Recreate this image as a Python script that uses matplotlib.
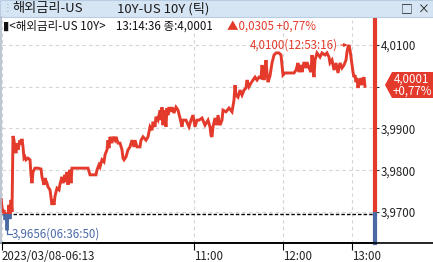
import matplotlib.pyplot as plt
from matplotlib.patches import Rectangle, Polygon

plt.rcParams['font.family'] = ['Noto Sans CJK KR', 'DejaVu Sans']

# tick position (x) and price
tick_idx = [0, 1, 2, 3, 4, 5, 6, 7, 8, 9, 10, 11, 12, 13, 14, 15, 16, 17, 18, 19,
            20, 21, 22, 23, 24, 25, 26, 28, 30, 31, 32, 33, 35, 38, 41, 42, 44, 45, 47, 48,
            50, 51, 52, 53, 54, 55, 57, 59, 60, 62, 63, 65, 66, 67, 68, 69, 70, 71, 72, 78,
            84, 88, 90, 96, 97, 99, 100, 102, 104, 105, 107, 108, 109, 110, 112, 113, 115, 116, 118, 120,
            122, 123, 124, 126, 128, 130, 132, 134, 135, 137, 140, 141, 143, 146, 148, 150, 152, 153, 155, 156,
            158, 160, 161, 162, 163, 164, 166, 167, 168, 169, 171, 172, 174, 176, 178, 180, 182, 183, 186, 189,
            191, 193, 195, 197, 199, 202, 205, 208, 210, 211, 212, 213, 215, 217, 218, 220, 222, 223, 226, 229,
            232, 234, 235, 236, 238, 240, 242, 244, 246, 247, 249, 251, 253, 255, 257, 259, 261, 262, 264, 265,
            266, 267, 268, 270, 272, 274, 276, 279, 281, 282, 283, 285, 288, 291, 294, 296, 298, 299, 301, 302,
            304, 306, 307, 309, 311, 312, 314, 315, 317, 320, 322, 325, 327, 329, 330, 332, 334, 336, 338, 340,
            342, 344, 346, 347, 348, 349, 350, 351, 352, 353, 354, 355, 356, 357, 358, 359, 360, 361, 362, 363,
            364, 365]
price = [3.9724, 3.9733, 3.9712, 3.9698, 3.9705, 3.9681, 3.9698, 3.9656, 3.9695, 3.9717, 3.9683, 3.9729, 3.9700, 3.9882, 3.9872, 3.9849, 3.9841, 3.9865, 3.9849, 3.9860,
         3.9872, 3.9863, 3.9875, 3.9856, 3.9829, 3.9832, 3.9825, 3.9829, 3.9825, 3.9789, 3.9769, 3.9796, 3.9805, 3.9805, 3.9803, 3.9784, 3.9765, 3.9781, 3.9769, 3.9760,
         3.9753, 3.9734, 3.9717, 3.9729, 3.9717, 3.9738, 3.9757, 3.9753, 3.9767, 3.9784, 3.9769, 3.9789, 3.9772, 3.9796, 3.9765, 3.9789, 3.9801, 3.9769, 3.9805, 3.9805,
         3.9805, 3.9805, 3.9789, 3.9789, 3.9801, 3.9813, 3.9808, 3.9825, 3.9820, 3.9837, 3.9849, 3.9872, 3.9853, 3.9880, 3.9865, 3.9880, 3.9872, 3.9880, 3.9865, 3.9865,
         3.9849, 3.9829, 3.9825, 3.9832, 3.9849, 3.9856, 3.9872, 3.9856, 3.9872, 3.9856, 3.9856, 3.9872, 3.9880, 3.9872, 3.9880, 3.9904, 3.9896, 3.9916, 3.9904, 3.9928,
         3.9920, 3.9944, 3.9920, 3.9951, 3.9908, 3.9944, 3.9904, 3.9949, 3.9932, 3.9951, 3.9940, 3.9951, 3.9937, 3.9951, 3.9944, 3.9925, 3.9904, 3.9920, 3.9920, 3.9904,
         3.9920, 3.9932, 3.9904, 3.9920, 3.9920, 3.9925, 3.9908, 3.9920, 3.9904, 3.9884, 3.9880, 3.9904, 3.9925, 3.9908, 3.9932, 3.9908, 3.9920, 3.9944, 3.9940, 3.9949,
         3.9940, 3.9968, 4.0004, 3.9980, 3.9975, 3.9992, 3.9980, 3.9992, 3.9997, 4.0016, 4.0000, 4.0009, 4.0016, 4.0023, 4.0016, 4.0023, 4.0021, 4.0052, 4.0016, 4.0035,
         4.0064, 4.0033, 4.0011, 4.0026, 4.0057, 4.0076, 4.0081, 4.0081, 4.0076, 4.0052, 4.0028, 4.0033, 4.0033, 4.0033, 4.0033, 4.0040, 4.0057, 4.0035, 4.0052, 4.0035,
         4.0059, 4.0045, 4.0059, 4.0045, 4.0035, 4.0076, 4.0023, 4.0064, 4.0081, 4.0071, 4.0081, 4.0076, 4.0081, 4.0071, 4.0057, 4.0064, 4.0040, 4.0057, 4.0033, 4.0057,
         4.0045, 4.0052, 4.0064, 4.0083, 4.0095, 4.0100, 4.0088, 4.0071, 4.0052, 4.0035, 4.0023, 4.0028, 4.0011, 4.0021, 3.9997, 4.0016, 4.0004, 4.0021, 4.0004, 4.0016,
         4.0023, 4.0001]

prev_close = 3.9696
last_price = 4.0001
y_ticks = [3.97, 3.98, 3.99, 4.00, 4.01]
y_labels = ['3,9700', '3,9800', '3,9900', '', '4,0100']
x_ticks = [2, 194, 283, 352]
x_labels = ['2023/03/08-06:13', '11:00', '12:00', '13:00']

RED = '#e33a2c'
BLUE = '#4a6aa6'
GRID = '#d4d4d4'
FS = 8.3

fig = plt.figure(figsize=(4.33, 2.62), dpi=100)
fig.patch.set_facecolor('white')
W, H = 433, 262

def fx(px):
    return px / W

def fy(py):
    return 1 - py / H

# title bar
fig.patches.append(Rectangle((0, fy(17)), 1, 17 / H, transform=fig.transFigure,
                             facecolor='#d6e5f3', edgecolor='#b8cde2', lw=0.8, zorder=0))
fig.text(fx(3), fy(8.5), '⋮', color='#9aaabb', fontsize=7, va='center', ha='left')
fig.text(fx(12), fy(8.5), '해외금리-US', color='#1a1a1a', fontsize=9.5, va='center')
fig.text(fx(117), fy(8.5), '10Y-US 10Y (틱)', color='#1a1a1a', fontsize=9.5, va='center')
fig.text(fx(401), fy(8.5), '□  ×', color='#1a1a1a', fontsize=8.5, va='center')

ax = fig.add_axes([fx(2), fy(243), fx(375) - fx(2), fy(20) - fy(243)])
ax.set_xlim(2, 375)
ax.set_ylim(3.96257, 4.01599)

# line: red above previous close, blue below
red_line, = ax.plot(tick_idx, price, color=RED, lw=2.1, zorder=3, solid_joinstyle='miter')
blue_line, = ax.plot(tick_idx, price, color=BLUE, lw=2.1, zorder=3, solid_joinstyle='miter')
top_clip = Rectangle((0, prev_close), 400, 1, transform=ax.transData)
bot_clip = Rectangle((0, 3.9), 400, prev_close - 3.9, transform=ax.transData)
red_line.set_clip_path(top_clip)
blue_line.set_clip_path(bot_clip)

ax.axhline(prev_close, color='black', lw=1.0, ls=(0, (2.5, 1.5)), zorder=2)

for spine in ['top', 'left', 'right']:
    ax.spines[spine].set_visible(False)
ax.spines['bottom'].set_color('black')
ax.spines['bottom'].set_linewidth(1.2)

# coloured right axis line
ax.plot([375, 375], [prev_close, 4.02], color=RED, lw=3, clip_on=False, zorder=4)
ax.plot([375, 375], [3.96257, prev_close], color=BLUE, lw=3, clip_on=False, zorder=4)

ax.yaxis.tick_right()
ax.set_yticks(y_ticks)
ax.set_yticklabels(y_labels)
ax.tick_params(axis='y', length=3, width=0.8, color='#333333', pad=1,
               labelsize=FS, labelcolor='#222222')
ax.set_xticks(x_ticks)
ax.set_xticklabels(x_labels, ha='left')
ax.tick_params(axis='x', length=5, width=0.8, color='black', pad=0,
               labelsize=FS, labelcolor='#222222')

ax.grid(True, color=GRID, ls=(0, (3, 3)), lw=0.8, zorder=0)
ax.set_axisbelow(True)

# bottom line extends over full width, thin frame at left
fig.lines.append(plt.Line2D([0, 1], [fy(243), fy(243)], transform=fig.transFigure,
                            color='black', lw=1.2))
fig.lines.append(plt.Line2D([fx(0.5), fx(0.5)], [fy(17), fy(243)], transform=fig.transFigure,
                            color='#b0bccc', lw=1.2))

# header line
fig.text(fx(3), fy(26), '▮<해외금리-US 10Y>', color='#111111', fontsize=FS, va='center')
fig.text(fx(116), fy(26), '13:14:36 종:4,0001', color='#111111', fontsize=FS, va='center')
fig.text(fx(227), fy(26), '▲0,0305 +0,77%', color=RED, fontsize=FS, va='center')

# high / low annotations
ax.annotate('4,0100(12:53:16)', xy=(349, 4.0100), xytext=(338, 4.0100),
            color=RED, fontsize=FS, ha='right', va='center',
            arrowprops=dict(arrowstyle='-|>', color=RED, lw=0.8, mutation_scale=5,
                            shrinkA=0, shrinkB=1))
ax.plot([7, 7, 12], [3.9656, 3.9648, 3.9648], color=BLUE, lw=0.9, zorder=3)
ax.text(12, 3.9648, '3,9656(06:36:50)', color=BLUE, fontsize=FS, va='center', ha='left')

# current price tag
tag = Polygon([(fx(385), fy(85)), (fx(392), fy(72)), (fx(433), fy(72)),
               (fx(433), fy(98)), (fx(392), fy(98))], closed=True,
              transform=fig.transFigure, facecolor=RED, edgecolor='none', zorder=5)
fig.patches.append(tag)
fig.text(fx(412), fy(79), '4,0001', color='white', fontsize=FS, ha='center', va='center', zorder=6)
fig.text(fx(412), fy(91), '+0,77%', color='white', fontsize=FS, ha='center', va='center', zorder=6)

fig.savefig('out.png', dpi=100)
